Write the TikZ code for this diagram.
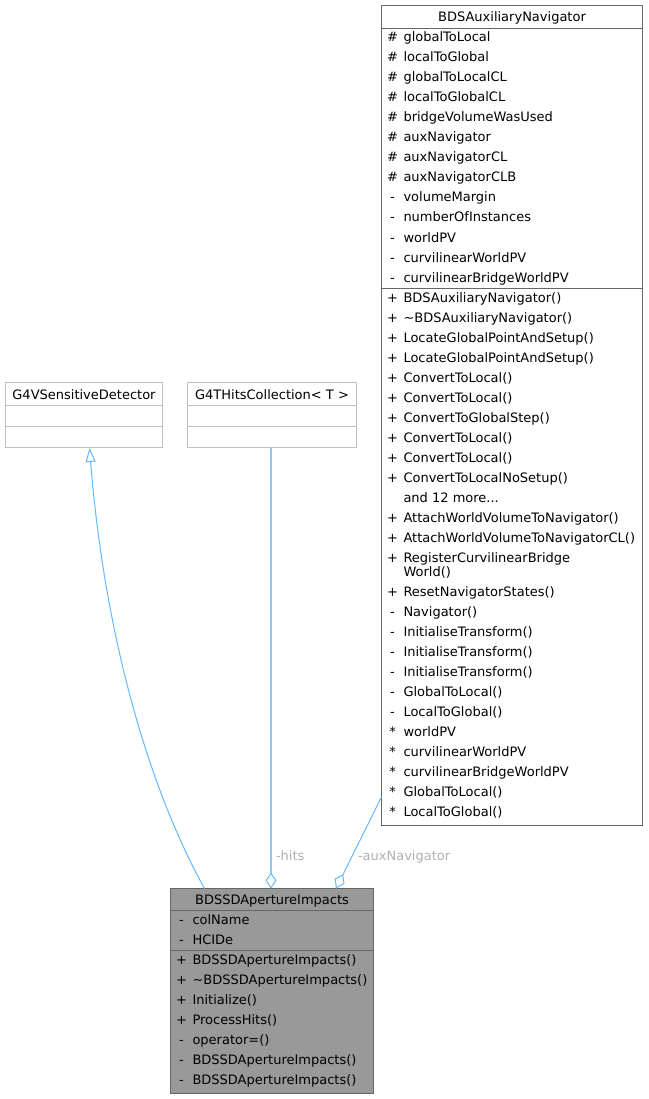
\documentclass[tikz,border=0pt]{standalone}
\usepackage{fontspec}
\setmainfont{DejaVu Sans}
\usetikzlibrary{arrows.meta}
\definecolor{edgeblue}{HTML}{63B8FF}
\definecolor{labelgray}{HTML}{B0B0B0}
\definecolor{boxdark}{HTML}{666666}
\definecolor{boxlight}{HTML}{BFBFBF}
\definecolor{boxfill}{HTML}{999999}
\newcommand\andmoretext{and 12 more...}
\tikzset{
  classbox/.style={draw, line width=1pt, inner sep=0pt, outer sep=0pt, anchor=north west},
  txt/.style={inner sep=0pt, outer sep=0pt, anchor=base west},
  sym/.style={inner sep=0pt, outer sep=0pt, anchor=base},
  ttl/.style={inner sep=0pt, outer sep=0pt, anchor=base},
  edge/.style={draw=edgeblue, line width=1pt},
  elabel/.style={inner sep=0pt, outer sep=0pt, anchor=base west, text=labelgray},
}
\begin{document}
\begin{tikzpicture}[x=1pt,y=-1pt,font=\fontsize{13}{16}\selectfont]
\useasboundingbox (0,0) rectangle (648,1099);

% BDSAuxiliaryNavigator
\node[classbox, draw=boxdark, fill=white, minimum width=261pt, minimum height=820pt] (aux) at (381.5,5.5) {};
\draw[boxdark, line width=1pt] (381.5,28.5) -- (642.5,28.5) (381.5,288.5) -- (642.5,288.5);
\node[ttl] (auxT) at (512,22) {BDSAuxiliaryNavigator};
\foreach \s/\n [count=\i] in {\#/globalToLocal, \#/localToGlobal, \#/globalToLocalCL, \#/localToGlobalCL, \#/bridgeVolumeWasUsed, \#/auxNavigator, \#/auxNavigatorCL, \#/auxNavigatorCLB, -/volumeMargin, -/numberOfInstances, -/worldPV, -/curvilinearWorldPV, -/curvilinearBridgeWorldPV}{
  \node[sym] (auxAs\i) at (392.5,{42+20*(\i-1)}) {\s};
  \node[txt] (auxAn\i) at (403.5,{42+20*(\i-1)}) {\n};
}
\foreach \y/\s/\n [count=\i] in {302/+/BDSAuxiliaryNavigator(), 322/+/\textasciitilde BDSAuxiliaryNavigator(), 342/+/LocateGlobalPointAndSetup(), 362/+/LocateGlobalPointAndSetup(), 382/+/ConvertToLocal(), 402/+/ConvertToLocal(), 422/+/ConvertToGlobalStep(), 442/+/ConvertToLocal(), 462/+/ConvertToLocal(), 482/+/ConvertToLocalNoSetup(), 502//\andmoretext, 522/+/AttachWorldVolumeToNavigator(), 542/+/AttachWorldVolumeToNavigatorCL(), 562/+/RegisterCurvilinearBridge, 576//World(), 596/+/ResetNavigatorStates(), 616/-/Navigator(), 636/-/InitialiseTransform(), 656/-/InitialiseTransform(), 676/-/InitialiseTransform(), 696/-/GlobalToLocal(), 716/-/LocalToGlobal(), 736/*/worldPV, 756/*/curvilinearWorldPV, 776/*/curvilinearBridgeWorldPV, 796/*/GlobalToLocal(), 816/*/LocalToGlobal()}{
  \node[sym] (auxMs\i) at (392.5,\y) {\s};
  \node[txt] (auxMn\i) at (403.5,\y) {\n};
}

% G4VSensitiveDetector
\node[classbox, draw=boxlight, fill=white, minimum width=157pt, minimum height=65pt] (sens) at (5.5,382.5) {};
\draw[boxlight, line width=1pt] (5.5,405.5) -- (162.5,405.5) (5.5,426.5) -- (162.5,426.5);
\node[ttl] (sensT) at (84,399) {G4VSensitiveDetector};

% G4THitsCollection
\node[classbox, draw=boxlight, fill=white, minimum width=169pt, minimum height=65pt] (hits) at (187.5,382.5) {};
\draw[boxlight, line width=1pt] (187.5,405.5) -- (356.5,405.5) (187.5,426.5) -- (356.5,426.5);
\node[ttl] (hitsT) at (272,399) {G4THitsCollection< T >};

% BDSSDApertureImpacts
\node[classbox, draw=boxdark, fill=boxfill, minimum width=203pt, minimum height=205pt] (imp) at (170.5,888.5) {};
\draw[boxdark, line width=1pt] (170.5,910.5) -- (373.5,910.5) (170.5,950.5) -- (373.5,950.5);
\node[ttl] (impT) at (272,904) {BDSSDApertureImpacts};
\foreach \y/\s/\n [count=\i] in {924/-/colName, 944/-/HCIDe, 964/+/BDSSDApertureImpacts(), 984/+/\textasciitilde BDSSDApertureImpacts(), 1004/+/Initialize(), 1024/+/ProcessHits(), 1044/-/operator=(), 1064/-/BDSSDApertureImpacts(), 1084/-/BDSSDApertureImpacts()}{
  \node[sym] (impS\i) at (181.5,\y) {\s};
  \node[txt] (impN\i) at (192.5,\y) {\n};
}

% connectors
\coordinate (inhA) at (204.5,888.5);
\coordinate (inhB) at (89.5,448);
\draw[edge, -{Triangle[open, length=14pt, width=10pt, line width=1pt]}] (inhA) .. controls (150,790) and (105,640) .. (inhB);

\coordinate (hitsA) at (271,448);
\coordinate (hitsB) at (271,888.5);
\draw[edge, draw=edgeblue!75!white, line width=1.6pt, -{Diamond[open, length=16pt, width=11pt, line width=1pt, color=edgeblue]}] (hitsA) -- (hitsB);
\node[elabel] (hitsL) at (276,860) {-hits};

\coordinate (auxA) at (381.5,797);
\coordinate (auxB) at (336,888.5);
\draw[edge, -{Diamond[open, length=16pt, width=11pt, line width=1pt]}] (auxA) -- (auxB);
\node[elabel] (auxL) at (358,860) {-auxNavigator};
\end{tikzpicture}
\end{document}
